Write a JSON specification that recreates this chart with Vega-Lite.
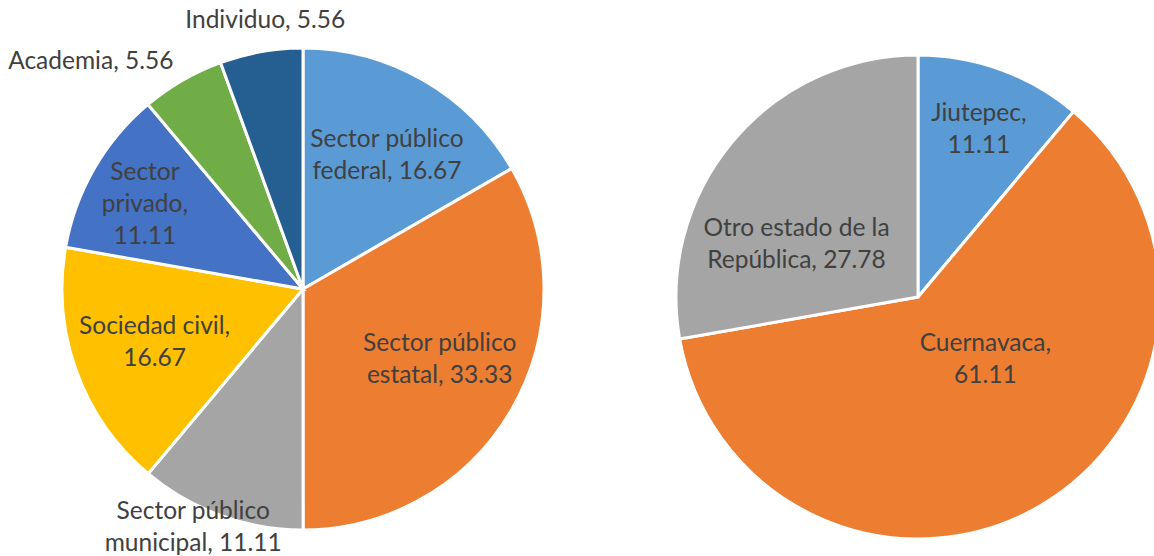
{
  "$schema": "https://vega.github.io/schema/vega-lite/v6.json",
  "padding": 0,
  "spacing": 0,
  "bounds": "flush",
  "background": "white",
  "config": {"view": {"stroke": null}, "text": {"font": "Lato", "fontSize": 24.5, "color": "#404040", "lineBreak": "\n", "lineHeight": 32, "align": "center", "baseline": "middle"}},
  "datasets": {
    "left": [
      {"idx": 1, "cat": "Sector público federal", "value": 16.67, "label": "Sector público\nfederal, 16.67"},
      {"idx": 2, "cat": "Sector público estatal", "value": 33.33, "label": "Sector público\nestatal, 33.33"},
      {"idx": 3, "cat": "Sector público municipal", "value": 11.11, "label": "Sector público\nmunicipal, 11.11"},
      {"idx": 4, "cat": "Sociedad civil", "value": 16.67, "label": "Sociedad civil,\n16.67"},
      {"idx": 5, "cat": "Sector privado", "value": 11.11, "label": "Sector\nprivado,\n11.11"},
      {"idx": 6, "cat": "Academia", "value": 5.56, "label": "Academia, 5.56"},
      {"idx": 7, "cat": "Individuo", "value": 5.56, "label": "Individuo, 5.56"}
    ],
    "right": [
      {"idx": 1, "cat": "Jiutepec", "value": 11.11, "label": "Jiutepec,\n11.11"},
      {"idx": 2, "cat": "Cuernavaca", "value": 61.11, "label": "Cuernavaca,\n61.11"},
      {"idx": 3, "cat": "Otro estado de la República", "value": 27.78, "label": "Otro estado de la\nRepública, 27.78"}
    ]
  },
  "hconcat": [
    {
      "width": 606,
      "height": 578,
      "data": {"name": "left"},
      "transform": [
        {"stack": "value", "groupby": [], "sort": [{"field": "idx", "order": "ascending"}], "as": ["v0", "v1"]},
        {"calculate": "(datum.v0 + datum.v1) / 2", "as": "mid"}
      ],
      "layer": [
        {
          "mark": {"type": "arc", "radius": 241, "stroke": "white", "strokeWidth": 3},
          "encoding": {
            "theta": {"field": "v0", "type": "quantitative", "scale": {"domain": [0, 100.01], "range": [0, 6.283185307179586], "zero": true, "nice": false}},
            "theta2": {"field": "v1"},
            "color": {"field": "cat", "type": "nominal", "legend": null,
              "scale": {"domain": ["Sector público federal", "Sector público estatal", "Sector público municipal", "Sociedad civil", "Sector privado", "Academia", "Individuo"],
                        "range": ["#5B9BD5", "#ED7D31", "#A5A5A5", "#FFC000", "#4472C4", "#70AD47", "#255E91"]}}
          }
        },
        {
          "transform": [{"filter": "datum.cat === 'Sector público federal'"}],
          "mark": {"type": "text", "radius": 157, "thetaOffset": 0.04, "dy": -16},
          "encoding": {"theta": {"field": "mid", "type": "quantitative"}, "text": {"field": "label", "type": "nominal"}}
        },
        {
          "transform": [{"filter": "datum.cat === 'Sociedad civil'"}],
          "mark": {"type": "text", "radius": 158, "dy": -16},
          "encoding": {"theta": {"field": "mid", "type": "quantitative"}, "text": {"field": "label", "type": "nominal"}}
        },
        {
          "transform": [{"filter": "datum.cat === 'Sector público estatal'"}],
          "mark": {"type": "text", "radius": 154, "thetaOffset": -0.045, "dy": -16},
          "encoding": {"theta": {"field": "mid", "type": "quantitative"}, "text": {"field": "label", "type": "nominal"}}
        },
        {
          "transform": [{"filter": "datum.cat === 'Sector privado'"}],
          "mark": {"type": "text", "radius": 179, "thetaOffset": -0.035, "dy": -32},
          "encoding": {"theta": {"field": "mid", "type": "quantitative"}, "text": {"field": "label", "type": "nominal"}}
        },
        {
          "transform": [{"filter": "datum.cat === 'Sector público municipal'"}],
          "mark": {"type": "text", "radius": 263, "thetaOffset": 0.082, "dy": -16},
          "encoding": {"theta": {"field": "mid", "type": "quantitative"}, "text": {"field": "label", "type": "nominal"}}
        },
        {
          "transform": [{"filter": "datum.cat === 'Individuo'"}],
          "mark": {"type": "text", "radius": 271, "thetaOffset": 0.035},
          "encoding": {"theta": {"field": "mid", "type": "quantitative"}, "text": {"field": "label", "type": "nominal"}}
        },
        {
          "transform": [{"filter": "datum.cat === 'Academia'"}],
          "mark": {"type": "text", "radius": 311, "thetaOffset": -0.227},
          "encoding": {"theta": {"field": "mid", "type": "quantitative"}, "text": {"field": "label", "type": "nominal"}}
        }
      ]
    },
    {
      "width": 624,
      "height": 594,
      "data": {"name": "right"},
      "transform": [
        {"stack": "value", "groupby": [], "sort": [{"field": "idx", "order": "ascending"}], "as": ["v0", "v1"]},
        {"calculate": "(datum.v0 + datum.v1) / 2", "as": "mid"}
      ],
      "layer": [
        {
          "mark": {"type": "arc", "radius": 242, "stroke": "white", "strokeWidth": 3},
          "encoding": {
            "theta": {"field": "v0", "type": "quantitative", "scale": {"domain": [0, 100], "range": [0, 6.283185307179586], "zero": true, "nice": false}},
            "theta2": {"field": "v1"},
            "color": {"field": "cat", "type": "nominal", "legend": null,
              "scale": {"domain": ["Jiutepec", "Cuernavaca", "Otro estado de la República"],
                        "range": ["#5B9BD5", "#ED7D31", "#A5A5A5"]}}
          }
        },
        {
          "transform": [{"filter": "datum.cat === 'Jiutepec'"}],
          "mark": {"type": "text", "radius": 178, "dy": -16},
          "encoding": {"theta": {"field": "mid", "type": "quantitative"}, "text": {"field": "label", "type": "nominal"}}
        },
        {
          "transform": [{"filter": "datum.cat === 'Cuernavaca'"}],
          "mark": {"type": "text", "radius": 92, "thetaOffset": -0.297, "dy": -16},
          "encoding": {"theta": {"field": "mid", "type": "quantitative"}, "text": {"field": "label", "type": "nominal"}}
        },
        {
          "transform": [{"filter": "datum.cat === 'Otro estado de la República'"}],
          "mark": {"type": "text", "radius": 132, "thetaOffset": -0.297, "dy": -16},
          "encoding": {"theta": {"field": "mid", "type": "quantitative"}, "text": {"field": "label", "type": "nominal"}}
        }
      ]
    }
  ]
}
